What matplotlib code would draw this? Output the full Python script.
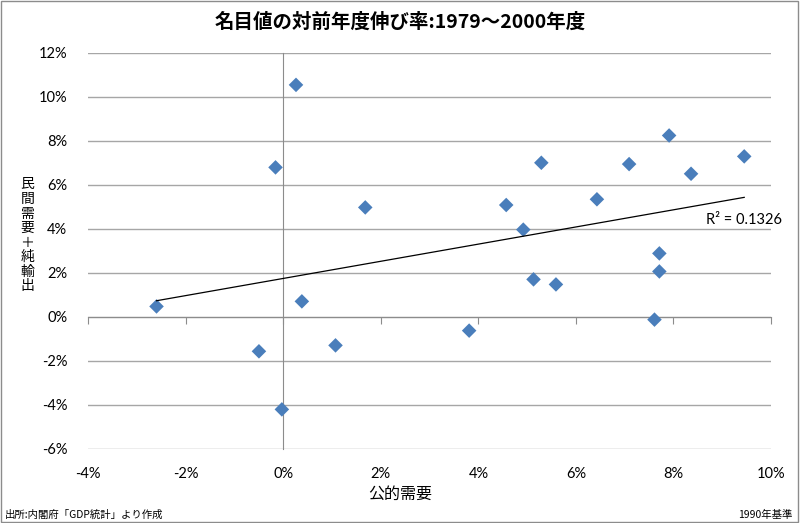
import matplotlib
matplotlib.use("Agg")
import matplotlib.pyplot as plt
import numpy as np
from matplotlib.patches import Rectangle
from matplotlib.ticker import FuncFormatter

JP = ['Noto Sans CJK JP', 'DejaVu Sans']
NUM = ['Lato', 'DejaVu Sans']
plt.rcParams['font.family'] = JP

# 公的需要 (x) と 民間需要＋純輸出 (y) の伸び率, %
public_demand = [0.26, -0.16, 1.68, -2.60, 0.38, -0.50, 1.07, -0.03,
                 3.81, 4.57, 4.92, 5.13, 5.29, 5.59, 6.43, 7.09,
                 7.91, 8.36, 9.45, 7.71, 7.71, 7.61]
private_net_exports = [10.55, 6.80, 4.98, 0.48, 0.71, -1.56, -1.29, -4.20,
                       -0.62, 5.09, 3.97, 1.71, 7.01, 1.48, 5.35, 6.95,
                       8.25, 6.51, 7.30, 2.89, 2.07, -0.12]
x_ticks = [-4, -2, 0, 2, 4, 6, 8, 10]
y_ticks = [-6, -4, -2, 0, 2, 4, 6, 8, 10, 12]

title = '名目値の対前年度伸び率:1979～2000年度'
x_label = '公的需要'
y_label = '民間需要＋純輸出'
source = '出所:内閣府「GDP統計」より作成'
base_note = '1990年基準'
r2_text = 'R² = 0.1326'

GRID = '#a6a6a6'
AXIS = '#8c8c8c'
BLUE = '#4a7ebb'

x = np.array(public_demand)
y = np.array(private_net_exports)

fig = plt.figure(figsize=(8, 5.23), dpi=100)
ax = fig.add_axes([0.1103, 0.1415, 0.8535, 0.7572])

ax.set_xlim(-4, 10)
ax.set_ylim(-6, 12)
ax.set_xticks(x_ticks)
ax.set_yticks(y_ticks)
pct = FuncFormatter(lambda v, p: f'{v:.0f}%')

for s in ['top', 'right']:
    ax.spines[s].set_visible(False)
ax.spines['bottom'].set_position(('data', 0))
ax.spines['bottom'].set_color(AXIS)
ax.spines['left'].set_position(('data', 0))
ax.spines['left'].set_color(AXIS)

ax.tick_params(axis='x', direction='out', length=5, color=AXIS, labelbottom=False)
ax.tick_params(axis='y', length=0, labelleft=False)
ax.grid(axis='y', color=GRID, linewidth=1)
ax.set_axisbelow(True)

# tick labels on the outer edges
secx = ax.secondary_xaxis(0)
secx.set_xticks(x_ticks)
secx.xaxis.set_major_formatter(pct)
secx.spines['bottom'].set_visible(False)
secx.tick_params(length=0, pad=13, labelsize=10.5)
secy = ax.secondary_yaxis(0)
secy.set_yticks(y_ticks)
secy.yaxis.set_major_formatter(pct)
secy.spines['left'].set_visible(False)
secy.tick_params(length=0, pad=15, labelsize=10.5)
for lab in secx.get_xticklabels() + secy.get_yticklabels():
    lab.set_family(NUM)

ax.scatter(x, y, marker='D', s=55, color=BLUE, edgecolors='none', zorder=3)

# linear trend line
k, b = np.polyfit(x, y, 1)
xs = np.array([x.min(), x.max()])
ax.plot(xs, k * xs + b, color='black', linewidth=0.9, zorder=4)
ax.text(8.67, 4.42, r2_text, fontsize=10.5, family=NUM, va='center', ha='left')

fig.text(0.5, 0.958, title, ha='center', va='center', fontsize=14, fontweight='bold')
fig.text(0.5, 0.055, x_label, ha='center', va='center', fontsize=11.5)
fig.text(0.034, 0.55, '\n'.join(y_label), ha='center', va='center',
         fontsize=10, linespacing=1.05)
fig.text(0.006, 0.016, source, ha='left', va='center', fontsize=7.5)
fig.text(0.99, 0.016, base_note, ha='right', va='center', fontsize=7.5)

fig.patches.append(Rectangle((0.001, 0.001), 0.997, 0.997, transform=fig.transFigure,
                             fill=False, edgecolor=AXIS, linewidth=1))

fig.savefig('out.png', dpi=100)
